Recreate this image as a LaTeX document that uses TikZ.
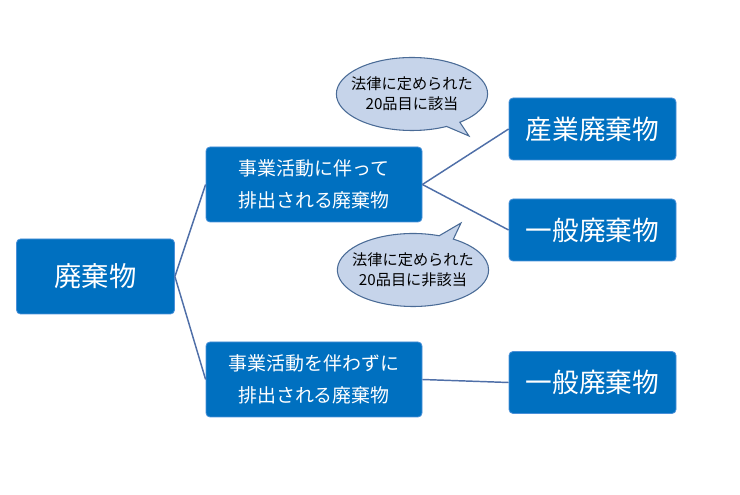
\documentclass[tikz,border=0pt]{standalone}
\usepackage{fontspec}
\setmainfont{Noto Sans CJK JP}
\usetikzlibrary{shapes.callouts}

\definecolor{boxblue}{HTML}{0070C0}
\definecolor{boxedge}{HTML}{4A90D9}
\definecolor{linkblue}{HTML}{4F6FA8}
\definecolor{bubblefill}{HTML}{C6D4EA}
\definecolor{bubbleedge}{HTML}{4A6B96}

\begin{document}
\begin{tikzpicture}[
        x=0.75pt, y=-0.75pt,
        box/.style={rectangle, draw=boxedge, fill=boxblue, rounded corners=3pt,
                    text=white, align=center, inner sep=0pt, line width=0.6pt},
        rootbox/.style={box, minimum width=118.5pt, minimum height=56.25pt,
                    font=\fontsize{20.5}{24}\selectfont},
        midbox/.style={box, minimum width=162pt, minimum height=56.25pt,
                    font=\fontsize{14.2}{24}\selectfont},
        endbox/.style={box, minimum width=125.25pt, minimum height=46.5pt,
                    font=\fontsize{20}{24}\selectfont},
        bubble/.style={ellipse callout, draw=bubbleedge, fill=bubblefill,
                    line width=0.8pt, minimum width=108.75pt, minimum height=54.75pt,
                    inner xsep=-5.5pt, inner ysep=0pt, align=center,
                    callout pointer arc=12,
                    font=\fontsize{11.4}{15}\selectfont},
        link/.style={draw=linkblue, line width=1.1pt},
    ]
    \useasboundingbox (0,0) rectangle (740,495);

    % 左：廃棄物
    \node[rootbox] (root) at (95.5,276.5) {廃棄物};

    % 中央：事業活動の有無
    \node[midbox] (biz) at (314,184.5) {事業活動に伴って\\排出される廃棄物};
    \node[midbox] (home) at (314,379.5) {事業活動を伴わずに\\排出される廃棄物};

    % 右：産業廃棄物・一般廃棄物
    \node[endbox] (ind) at (592.5,129) {産業廃棄物};
    \node[endbox] (gen) at (592.5,230) {一般廃棄物};
    \node[endbox] (gen2) at (592.5,382.5) {一般廃棄物};

    % 吹き出し
    \node[bubble, callout absolute pointer={(469,136)}] (yes) at (412,94)
        {法律に定められた\\20品目に該当};
    \node[bubble, callout absolute pointer={(461,223)}] (no) at (413,270)
        {法律に定められた\\20品目に非該当};

    % 接続線
    \draw[link] (root.east) -- (biz.west);
    \draw[link] (root.east) -- (home.west);
    \draw[link] (biz.east) -- (ind.west);
    \draw[link] (biz.east) -- (gen.west);
    \draw[link] (home.east) -- (gen2.west);
\end{tikzpicture}
\end{document}
